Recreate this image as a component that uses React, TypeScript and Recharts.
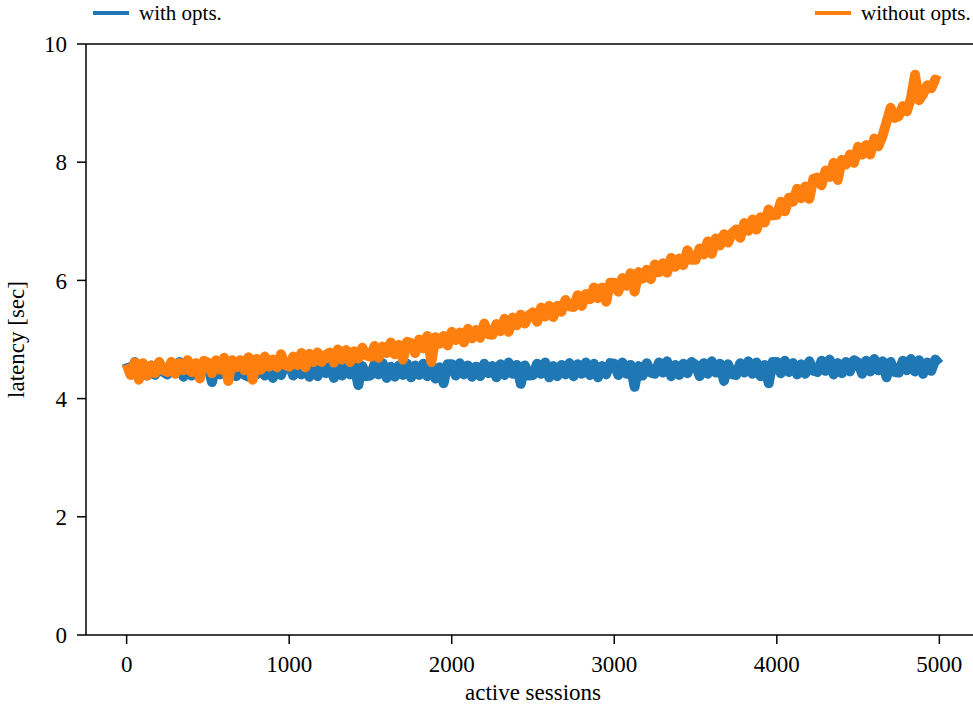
import { LineChart, Line, XAxis, YAxis, ReferenceLine, Label } from "recharts";

// latency samples, one every STEP active sessions
const STEP = 25;

const withOpts = [
  4.60, 4.41, 4.62, 4.43, 4.58, 4.39, 4.56, 4.40, 4.61, 4.45,
  4.41, 4.60, 4.43, 4.62, 4.37, 4.56, 4.39, 4.58, 4.42, 4.61,
  4.56, 4.28, 4.59, 4.41, 4.62, 4.43, 4.58, 4.38, 4.57, 4.40,
  4.37, 4.57, 4.41, 4.60, 4.39, 4.58, 4.35, 4.54, 4.40, 4.59,
  4.58, 4.39, 4.60, 4.41, 4.56, 4.37, 4.54, 4.38, 4.59, 4.43,
  4.54, 4.35, 4.57, 4.39, 4.60, 4.41, 4.56, 4.23, 4.55, 4.38,
  4.39, 4.58, 4.41, 4.60, 4.35, 4.54, 4.37, 4.56, 4.40, 4.59,
  4.36, 4.56, 4.40, 4.59, 4.38, 4.57, 4.34, 4.53, 4.26, 4.58,
  4.58, 4.39, 4.60, 4.41, 4.56, 4.37, 4.54, 4.38, 4.59, 4.43,
  4.55, 4.36, 4.58, 4.40, 4.61, 4.42, 4.57, 4.25, 4.56, 4.39,
  4.40, 4.59, 4.42, 4.61, 4.36, 4.55, 4.38, 4.57, 4.41, 4.60,
  4.38, 4.58, 4.42, 4.61, 4.40, 4.59, 4.36, 4.55, 4.41, 4.60,
  4.59, 4.40, 4.61, 4.42, 4.57, 4.20, 4.55, 4.39, 4.60, 4.44,
  4.42, 4.61, 4.44, 4.63, 4.38, 4.57, 4.40, 4.59, 4.43, 4.62,
  4.57, 4.38, 4.60, 4.42, 4.63, 4.44, 4.59, 4.30, 4.58, 4.41,
  4.40, 4.60, 4.44, 4.63, 4.42, 4.61, 4.38, 4.57, 4.26, 4.62,
  4.62, 4.43, 4.64, 4.45, 4.60, 4.41, 4.58, 4.42, 4.63, 4.47,
  4.45, 4.64, 4.47, 4.66, 4.41, 4.60, 4.43, 4.62, 4.46, 4.65,
  4.61, 4.42, 4.64, 4.46, 4.67, 4.48, 4.63, 4.36, 4.62, 4.45,
  4.44, 4.64, 4.48, 4.67, 4.46, 4.65, 4.42, 4.61, 4.47, 4.66,
  4.58,
];

const withoutOpts = [
  4.58, 4.40, 4.61, 4.32, 4.60, 4.39, 4.56, 4.43, 4.62, 4.48,
  4.45, 4.62, 4.42, 4.60, 4.48, 4.65, 4.45, 4.60, 4.34, 4.64,
  4.61, 4.43, 4.65, 4.49, 4.69, 4.30, 4.65, 4.53, 4.65, 4.48,
  4.70, 4.32, 4.67, 4.49, 4.71, 4.54, 4.66, 4.53, 4.75, 4.57,
  4.54, 4.71, 4.57, 4.77, 4.53, 4.76, 4.62, 4.78, 4.62, 4.74,
  4.78, 4.61, 4.83, 4.66, 4.82, 4.62, 4.80, 4.68, 4.86, 4.73,
  4.71, 4.89, 4.69, 4.88, 4.77, 4.95, 4.75, 4.91, 4.66, 4.96,
  4.94, 4.77, 5.00, 4.85, 5.06, 4.62, 5.04, 4.93, 5.06, 4.90,
  5.13, 4.99, 5.12, 4.95, 5.18, 5.02, 5.16, 5.03, 5.27, 5.09,
  5.08, 5.26, 5.14, 5.35, 5.13, 5.37, 5.24, 5.42, 5.27, 5.41,
  5.46, 5.30, 5.54, 5.39, 5.57, 5.38, 5.57, 5.47, 5.67, 5.56,
  5.55, 5.75, 5.57, 5.77, 5.68, 5.88, 5.70, 5.88, 5.64, 5.96,
  5.96, 5.81, 6.04, 5.91, 6.12, 5.81, 6.14, 6.03, 6.18, 6.02,
  6.27, 6.14, 6.29, 6.13, 6.38, 6.23, 6.37, 6.26, 6.51, 6.35,
  6.35, 6.54, 6.44, 6.66, 6.45, 6.71, 6.59, 6.78, 6.64, 6.80,
  6.86, 6.72, 6.97, 6.84, 7.03, 6.86, 7.07, 6.98, 7.20, 7.10,
  7.11, 7.33, 7.17, 7.40, 7.33, 7.55, 7.39, 7.59, 7.38, 7.72,
  7.74, 7.61, 7.86, 7.75, 7.99, 7.70, 8.04, 7.96, 8.13, 7.99,
  8.26, 8.13, 8.29, 8.13, 8.40, 8.27, 8.44, 8.68, 8.92, 8.75,
  8.78, 8.95, 8.86, 9.08, 9.48, 9.05, 9.15, 9.30, 9.25, 9.40,
  9.37,
];

const xTicks = [0, 1000, 2000, 3000, 4000, 5000];
const yTicks = [0, 2, 4, 6, 8, 10];

const series = [
  { key: "with", name: "with opts.", color: "#1f77b4" },
  { key: "without", name: "without opts.", color: "#ff7f0e" },
];

const data = withOpts.map((v, i) => ({
  sessions: i * STEP,
  with: v,
  without: withoutOpts[i],
}));

const FONT = "'Liberation Serif', 'Times New Roman', serif";
const tickStyle = { fontSize: 23, fill: "#000", fontFamily: FONT };
const axisLine = { stroke: "#000", strokeWidth: 1.5 };

export default function App() {
  return (
    <div
      style={{
        position: "absolute",
        left: 0,
        top: 0,
        width: 973,
        height: 708,
        overflow: "hidden",
        background: "#fff",
        fontFamily: FONT,
      }}
    >
      {/* legend, split to the two top corners */}
      {series.map((s, i) => (
        <div
          key={s.key}
          style={{
            position: "absolute",
            top: 0,
            left: i === 0 ? 93 : 815,
            height: 26,
            display: "flex",
            alignItems: "center",
            fontSize: 21,
            color: "#000",
            whiteSpace: "nowrap",
          }}
        >
          <span
            style={{
              display: "inline-block",
              width: 36,
              height: 3.5,
              background: s.color,
              marginRight: 10,
            }}
          />
          {s.name}
        </div>
      ))}
      <LineChart
        width={980}
        height={708}
        data={data}
        margin={{ top: 44, right: 0, bottom: 0, left: 0 }}
      >
        <XAxis
          dataKey="sessions"
          type="number"
          domain={[-250, 5250]}
          ticks={xTicks}
          allowDataOverflow
          height={73}
          tickSize={9}
          tickMargin={12}
          tick={tickStyle}
          axisLine={axisLine}
          tickLine={axisLine}
        >
          <Label
            value="active sessions"
            position="insideBottom"
            offset={8}
            style={{ fontSize: 23, fill: "#000", fontFamily: FONT }}
          />
        </XAxis>
        <YAxis
          type="number"
          domain={[0, 10]}
          ticks={yTicks}
          width={86}
          tickSize={9}
          tickMargin={10}
          tick={tickStyle}
          axisLine={axisLine}
          tickLine={axisLine}
        >
          <Label
            value="latency [sec]"
            angle={-90}
            position="insideLeft"
            offset={16}
            style={{ fontSize: 23, fill: "#000", fontFamily: FONT, textAnchor: "middle" }}
          />
        </YAxis>
        <ReferenceLine y={10} stroke="#000" strokeWidth={1.5} />
        {/* heavy stroke so the jittery samples read as a solid noisy band */}
        {series.map((s) => (
          <Line
            key={s.key}
            dataKey={s.key}
            name={s.name}
            type="linear"
            stroke={s.color}
            strokeWidth={10}
            strokeLinejoin="round"
            strokeLinecap="butt"
            dot={false}
            isAnimationActive={false}
          />
        ))}
      </LineChart>
    </div>
  );
}
